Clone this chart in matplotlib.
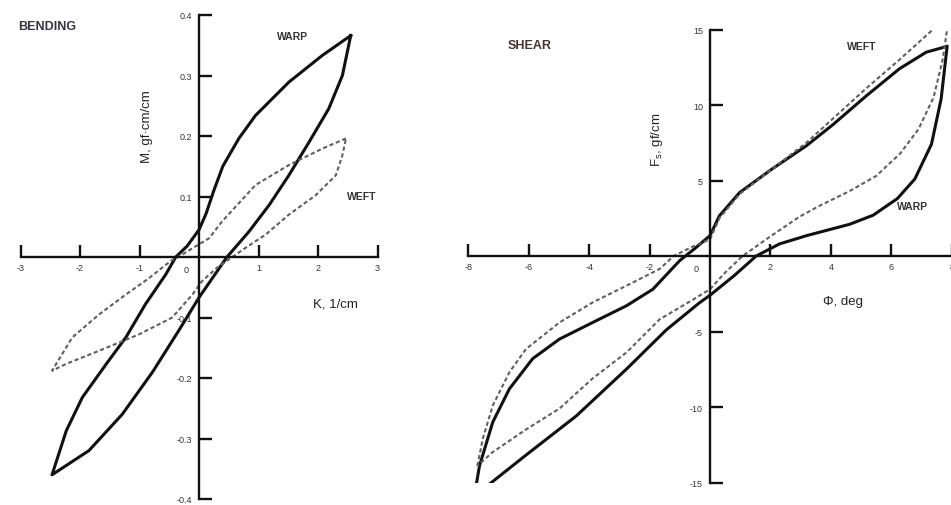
import matplotlib
matplotlib.use("Agg")
import matplotlib.pyplot as plt

plt.rcParams['font.family'] = ['Liberation Sans', 'DejaVu Sans']
plt.rcParams['axes.unicode_minus'] = False

# ---------------- BENDING data ----------------
bend_warp_up_K = [2.55, 2.07, 1.51, 0.95, 0.67, 0.40, 0.25, 0.12, 0.00, -0.20, -0.39, -0.56, -0.90, -1.23, -1.56, -1.96, -2.23, -2.47]
bend_warp_up_M = [0.366, 0.333, 0.289, 0.234, 0.196, 0.150, 0.110, 0.072, 0.045, 0.018, 0.000, -0.029, -0.078, -0.133, -0.177, -0.232, -0.287, -0.360]
bend_warp_dn_K = [-2.47, -1.85, -1.29, -0.78, -0.33, 0.00, 0.47, 0.84, 1.18, 1.51, 1.85, 2.18, 2.41, 2.55]
bend_warp_dn_M = [-0.360, -0.320, -0.260, -0.190, -0.120, -0.067, 0.000, 0.042, 0.086, 0.135, 0.190, 0.245, 0.300, 0.366]

bend_weft_up_K = [2.47, 2.07, 1.51, 0.95, 0.39, 0.17, 0.00, -0.25, -0.45, -0.56, -0.84, -1.23, -1.68, -2.13, -2.47]
bend_weft_up_M = [0.196, 0.179, 0.152, 0.119, 0.059, 0.031, 0.021, 0.006, -0.005, -0.013, -0.035, -0.062, -0.095, -0.133, -0.188]
bend_weft_dn_K = [-2.47, -2.24, -1.68, -1.01, -0.45, -0.11, 0.05, 0.30, 0.56, 0.78, 1.12, 1.51, 1.96, 2.30, 2.41, 2.47]
bend_weft_dn_M = [-0.188, -0.177, -0.155, -0.128, -0.100, -0.062, -0.040, -0.018, 0.000, 0.015, 0.037, 0.070, 0.102, 0.135, 0.168, 0.196]

bend_xticks = [-3, -2, -1, 1, 2, 3]
bend_yticks = [-0.4, -0.3, -0.2, -0.1, 0.1, 0.2, 0.3, 0.4]

# ---------------- SHEAR data ----------------
shear_warp_up_phi = [-7.80, -7.63, -7.19, -6.64, -5.87, -4.98, -3.88, -2.77, -1.89, -1.00, -0.50, 0.00, 0.31, 0.98, 2.08, 3.19, 4.07, 5.17, 6.27, 7.16, 7.70, 7.85]
shear_warp_up_F = [-15.9, -13.9, -11.0, -8.8, -6.8, -5.5, -4.4, -3.3, -2.2, -0.3, 0.5, 1.35, 2.66, 4.2, 5.8, 7.3, 8.7, 10.6, 12.4, 13.5, 13.8, 13.9]
shear_warp_dn_phi = [7.85, 7.65, 7.33, 6.78, 6.20, 5.40, 4.62, 3.20, 2.30, 1.53, 0.80, 0.00, -0.35, -1.45, -2.77, -4.43, -6.10, -7.80]
shear_warp_dn_F = [13.9, 10.4, 7.4, 5.1, 3.8, 2.7, 2.1, 1.35, 0.8, 0.0, -1.3, -2.6, -3.1, -4.9, -7.5, -10.6, -13.2, -15.9]

shear_weft_up_phi = [-7.70, -7.52, -7.19, -6.64, -6.09, -4.98, -3.88, -2.77, -1.67, -1.20, -0.60, 0.00, 0.31, 0.98, 2.08, 3.19, 4.07, 5.17, 6.27, 7.38, 7.93]
shear_weft_up_F = [-13.9, -12.1, -9.9, -7.7, -6.16, -4.4, -3.07, -1.97, -0.86, 0.0, 0.6, 1.1, 2.5, 4.1, 5.8, 7.5, 9.1, 11.1, 13.0, 15.0, 16.1]
shear_weft_dn_phi = [7.93, 7.70, 7.40, 6.90, 6.30, 5.50, 4.62, 3.60, 2.96, 2.00, 1.08, 0.50, 0.00, -0.57, -1.67, -2.77, -3.88, -4.98, -6.10, -7.20, -7.70]
shear_weft_dn_F = [16.1, 13.0, 10.5, 8.4, 6.8, 5.3, 4.3, 3.3, 2.6, 1.3, 0.0, -1.1, -2.2, -2.9, -4.2, -6.4, -8.1, -10.1, -11.5, -13.0, -13.9]

shear_xticks = [-8, -6, -4, -2, 2, 4, 6, 8]
shear_yticks = [-15, -10, -5, 5, 10, 15]

W, H = 951, 506
fig = plt.figure(figsize=(W / 100, H / 100), dpi=100)

solid_kw = dict(color='#111111', lw=2.2, solid_joinstyle='round')
dash_kw = dict(color='#606060', lw=1.5, dashes=(2.0, 1.3))
tick_color = '#333333'


def setup_axes(ax, xticks, yticks, xfmt, yfmt):
    for s in ['top', 'right']:
        ax.spines[s].set_visible(False)
    ax.spines['left'].set_position(('data', 0))
    ax.spines['bottom'].set_position(('data', 0))
    for s in ['left', 'bottom']:
        ax.spines[s].set_linewidth(1.7)
        ax.spines[s].set_color('#111111')
    ax.set_xticks(xticks)
    ax.set_yticks(yticks)
    ax.set_xticklabels([xfmt(v) for v in xticks])
    ax.set_yticklabels([yfmt(v) for v in yticks])
    ax.tick_params(axis='x', direction='in', length=9, width=1.7, pad=4,
                   labelsize=6.5, labelcolor=tick_color, color='#111111')
    ax.tick_params(axis='y', direction='in', length=9, width=1.7, pad=5,
                   labelsize=6.5, labelcolor=tick_color, color='#111111')
    ax.patch.set_alpha(0)


def px_axes(x0, x1, y0, y1):
    # x0,x1 pixel left/right ; y0 top pixel, y1 bottom pixel
    return fig.add_axes([x0 / W, 1 - y1 / H, (x1 - x0) / W, (y1 - y0) / H])


# ---------------- Left panel: BENDING ----------------
ax1 = px_axes(20.5, 377.5, 16, 500)
ax1.set_xlim(-3, 3)
ax1.set_ylim(-0.4, 0.4)
ax1.plot(bend_warp_up_K + bend_warp_dn_K, bend_warp_up_M + bend_warp_dn_M, **solid_kw)
ax1.plot(bend_weft_up_K + bend_weft_dn_K, bend_weft_up_M + bend_weft_dn_M, **dash_kw)
setup_axes(ax1, bend_xticks, bend_yticks, lambda v: f"{v:g}", lambda v: f"{v:.1f}")
ax1.annotate("0", xy=(0, 0), xytext=(-9, -9), textcoords='offset points',
             fontsize=6.5, color=tick_color, ha='center', va='center')

fig.text(18 / W, 1 - 27 / H, "BENDING", fontsize=9, fontweight='bold', color='#333344',
         ha='left', va='center')
fig.text(293 / W, 1 - 37 / H, "WARP", fontsize=7.5, fontweight='bold', color='#333333',
         ha='center', va='center')
fig.text(362 / W, 1 - 197 / H, "WEFT", fontsize=7.5, fontweight='bold', color='#333333',
         ha='center', va='center')
fig.text(147 / W, 1 - 127 / H, "M, gf\u00b7cm/cm", fontsize=9.5, color='#222222',
         rotation=90, ha='center', va='center')
fig.text(335 / W, 1 - 305 / H, "K, 1/cm", fontsize=9.5, color='#222222',
         ha='center', va='center')

# ---------------- Right panel: SHEAR ----------------
ax2 = px_axes(468.3, 951.7, 30.5, 483.5)
ax2.set_xlim(-8, 8)
ax2.set_ylim(-15, 15)
ax2.plot(shear_warp_up_phi + shear_warp_dn_phi, shear_warp_up_F + shear_warp_dn_F, **solid_kw)
ax2.plot(shear_weft_up_phi + shear_weft_dn_phi, shear_weft_up_F + shear_weft_dn_F, **dash_kw)
setup_axes(ax2, shear_xticks, shear_yticks, lambda v: f"{v:g}", lambda v: f"{v:g}")
ax2.annotate("0", xy=(0, 0), xytext=(-10, -9), textcoords='offset points',
             fontsize=6.5, color=tick_color, ha='center', va='center')

fig.text(508 / W, 1 - 46 / H, "SHEAR", fontsize=9, fontweight='bold', color='#443333',
         ha='left', va='center')
fig.text(862 / W, 1 - 47 / H, "WEFT", fontsize=7.5, fontweight='bold', color='#333333',
         ha='center', va='center')
fig.text(913 / W, 1 - 207 / H, "WARP", fontsize=7.5, fontweight='bold', color='#333333',
         ha='center', va='center')
fig.text(657 / W, 1 - 140 / H, "F$_\\mathrm{s}$, gf/cm", fontsize=9.5, color='#222222',
         rotation=90, ha='center', va='center')
fig.text(843 / W, 1 - 302 / H, "\u03a6, deg", fontsize=9.5, color='#222222',
         ha='center', va='center')

fig.savefig("out.png", dpi=100, facecolor='white')
